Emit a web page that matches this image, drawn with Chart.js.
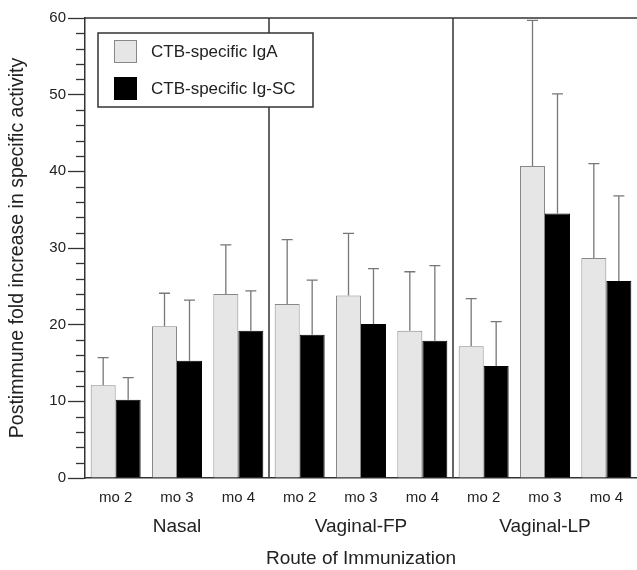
<!DOCTYPE html>
<html>
<head>
<meta charset="utf-8">
<script src="https://cdn.jsdelivr.net/npm/chart.js@4"></script>
<style>
  html, body { margin: 0; padding: 0; background: #fff; }
  #wrap { width: 637px; height: 570px; }
</style>
</head>
<body>
<div id="wrap"><canvas id="myChart" width="637" height="570"></canvas></div>
<script>
// values
const months = ["mo 2", "mo 3", "mo 4", "mo 2", "mo 3", "mo 4", "mo 2", "mo 3", "mo 4"];
const routes = ["", "Nasal", "", "", "Vaginal-FP", "", "", "Vaginal-LP", ""];
const igaMean = [12.1, 19.8, 24.0, 22.7, 23.8, 19.2, 17.2, 40.7, 28.7];
const igaErr = [3.6, 4.3, 6.4, 8.4, 8.1, 7.7, 6.2, 19.0, 12.3];
const scMean = [10.2, 15.3, 19.2, 18.7, 20.1, 17.9, 14.6, 34.5, 25.7];
const scErr = [2.9, 7.9, 5.2, 7.1, 7.2, 9.8, 5.8, 15.6, 11.1];
const yTicks = [0, 10, 20, 30, 40, 50, 60];

const font = "'Liberation Sans', Arial, Helvetica, sans-serif";

// upper error bars, group separators, top line, minor ticks, legend box
const extras = {
  id: "extras",
  afterDatasetsDraw(chart) {
    const ctx = chart.ctx;
    const area = chart.chartArea;
    const y = chart.scales.y;
    const x = chart.scales.x;
    const errs = [igaErr, scErr];

    ctx.save();
    ctx.strokeStyle = "#777";
    ctx.lineWidth = 1.3;
    chart.data.datasets.forEach((ds, di) => {
      chart.getDatasetMeta(di).data.forEach((bar, i) => {
        const top = y.getPixelForValue(ds.data[i] + errs[di][i]);
        ctx.beginPath();
        ctx.moveTo(bar.x, bar.y);
        ctx.lineTo(bar.x, top);
        ctx.moveTo(bar.x - 5.5, top);
        ctx.lineTo(bar.x + 5.5, top);
        ctx.stroke();
      });
    });

    // separators between routes
    ctx.strokeStyle = "#333";
    ctx.lineWidth = 1.5;
    [3, 6].forEach(k => {
      const px = (x.getPixelForValue(k - 1) + x.getPixelForValue(k)) / 2;
      ctx.beginPath();
      ctx.moveTo(px, area.top);
      ctx.lineTo(px, area.bottom);
      ctx.stroke();
    });

    // top frame line
    ctx.beginPath();
    ctx.moveTo(area.left, area.top);
    ctx.lineTo(area.right, area.top);
    ctx.stroke();

    // minor y ticks
    ctx.lineWidth = 1.3;
    for (let v = 0; v <= 60; v += 2) {
      if (yTicks.includes(v)) continue;
      const py = Math.round(y.getPixelForValue(v)) + 0.5;
      ctx.beginPath();
      ctx.moveTo(area.left - 9, py);
      ctx.lineTo(area.left, py);
      ctx.stroke();
    }

    // legend
    const lx = 98, ly = 33, lw = 215, lh = 74;
    ctx.fillStyle = "#fff";
    ctx.fillRect(lx, ly, lw, lh);
    ctx.strokeStyle = "#333";
    ctx.lineWidth = 1.5;
    ctx.strokeRect(lx, ly, lw, lh);
    ctx.font = "17px " + font;
    ctx.textBaseline = "middle";
    chart.data.datasets.forEach((ds, di) => {
      const sy = 40 + di * 37;
      ctx.fillStyle = ds.backgroundColor;
      ctx.fillRect(114, sy, 23, 23);
      ctx.strokeStyle = ds.borderColor;
      ctx.lineWidth = 1;
      ctx.strokeRect(114.5, sy + 0.5, 22, 22);
      ctx.fillStyle = "#222";
      ctx.fillText(ds.label, 151, sy + 12);
    });
    ctx.restore();
  }
};

const graphData = {
  labels: months,
  datasets: [
    {
      label: "CTB-specific IgA",
      backgroundColor: "#e6e6e6",
      borderColor: "#888",
      borderWidth: 1,
      data: igaMean
    },
    {
      label: "CTB-specific Ig-SC",
      backgroundColor: "#000",
      borderColor: "#000",
      borderWidth: 1,
      data: scMean
    }
  ]
};

const ctx = document.getElementById("myChart").getContext("2d");

const chart = new Chart(ctx, {
  type: "bar",
  data: graphData,
  plugins: [extras],
  options: {
    responsive: false,
    animation: false,
    layout: { padding: { top: 18, right: 0, left: 0, bottom: 0 } },
    datasets: { bar: { categoryPercentage: 0.815, barPercentage: 1 } },
    plugins: { legend: { display: false }, tooltip: { enabled: false } },
    scales: {
      x: {
        weight: 0,
        grid: { display: false, drawTicks: false },
        border: { display: true, color: "#333", width: 1.5 },
        ticks: { color: "#222", font: { family: font, size: 15 }, padding: 11, maxRotation: 0, autoSkip: false },
        afterFit: s => { s.height = 33; }
      },
      x2: {
        type: "category",
        labels: routes,
        position: "bottom",
        weight: 1,
        offset: true,
        grid: { display: false, drawTicks: false },
        border: { display: false },
        ticks: { color: "#222", font: { family: font, size: 19 }, padding: 4, maxRotation: 0, autoSkip: false },
        title: { display: true, text: "Route of Immunization", color: "#222", font: { family: font, size: 19 }, padding: { top: 9, bottom: 0 } },
        afterFit: s => { s.height = 59; }
      },
      y: {
        min: 0,
        max: 60,
        ticks: {
          stepSize: 10,
          color: "#222",
          font: { family: font, size: 15 },
          padding: 2
        },
        grid: { drawOnChartArea: false, tickLength: 17, tickColor: "#333", tickWidth: 1.3 },
        border: { display: true, color: "#333", width: 1.5 },
        title: {
          display: true,
          text: "Postimmune fold increase in specific activity",
          color: "#222",
          font: { family: font, size: 19.5 },
          padding: { top: 6, bottom: 0 }
        },
        afterFit: s => { s.width = 85; }
      }
    }
  }
});
</script>
</body>
</html>
